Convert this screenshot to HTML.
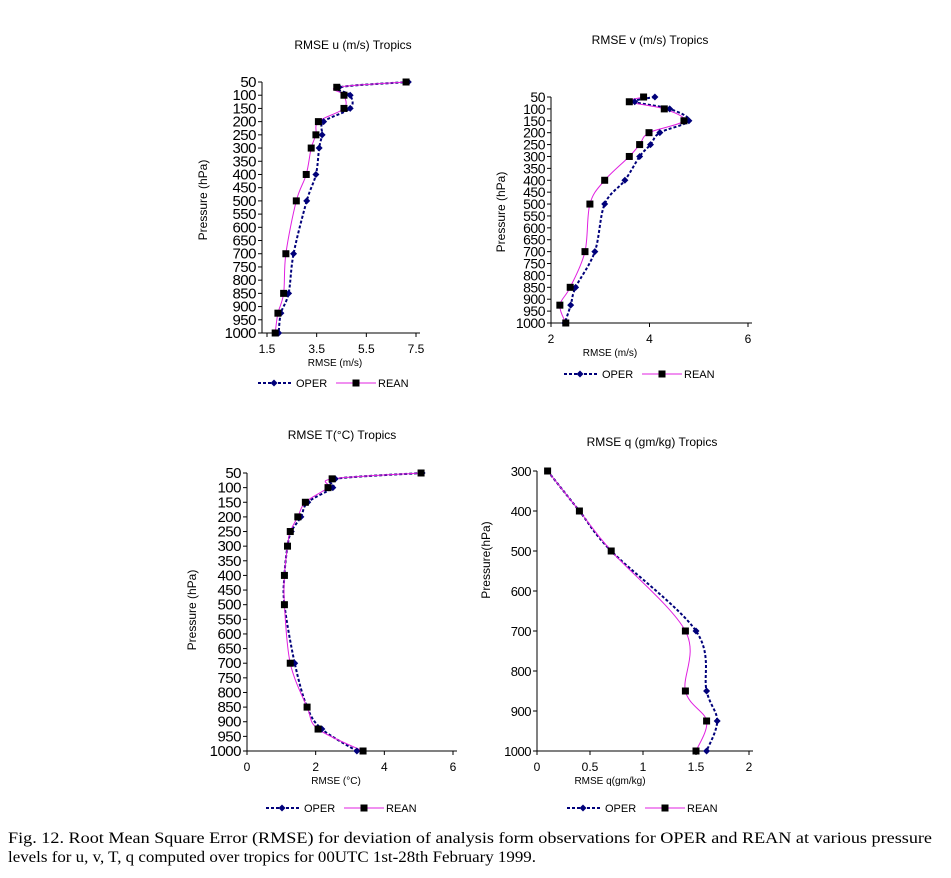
<!DOCTYPE html>
<html><head><meta charset="utf-8">
<style>
html,body{margin:0;padding:0;background:#fff;}
svg{display:block;font-family:"Liberation Sans",sans-serif;}
</style></head>
<body>
<svg id="fig" width="951" height="878" viewBox="0 0 951 878" xmlns="http://www.w3.org/2000/svg">
<text x="8" y="843" font-family="Liberation Serif, serif" font-size="16" textLength="924" lengthAdjust="spacingAndGlyphs">Fig. 12. Root Mean Square Error (RMSE) for deviation of analysis form observations for OPER and REAN at various pressure</text>
<text x="8" y="862" font-family="Liberation Serif, serif" font-size="16" textLength="528" lengthAdjust="spacingAndGlyphs">levels for u, v, T, q computed over tropics for 00UTC 1st-28th February 1999.</text>
</svg>
<script>
// ---- data ----
const levels = [50,70,100,150,200,250,300,400,500,700,850,925,1000];
const uOper = [7.19,4.4,4.85,4.85,3.78,3.72,3.6,3.47,3.1,2.57,2.37,2.06,1.97];
const uRean = [7.1,4.31,4.6,4.6,3.57,3.47,3.28,3.08,2.68,2.26,2.17,1.94,1.83];
const vOper = [4.11,3.7,4.41,4.8,4.21,4.02,3.8,3.5,3.09,2.89,2.5,2.4,2.28];
const vRean = [3.88,3.59,4.3,4.7,3.99,3.8,3.59,3.09,2.79,2.69,2.39,2.18,2.3];
const tOper = [5.1,2.57,2.5,1.77,1.57,1.29,1.18,1.09,1.09,1.39,1.75,2.18,3.2];
const tRean = [5.07,2.48,2.36,1.7,1.48,1.26,1.18,1.09,1.09,1.26,1.75,2.07,3.38];
const qLevels = [300,400,500,700,850,925,1000];
const qOper = [0.1,0.4,0.7,1.5,1.6,1.7,1.6];
const qRean = [0.1,0.4,0.7,1.4,1.4,1.6,1.5];
const pTicks = [50,100,150,200,250,300,350,400,450,500,550,600,650,700,750,800,850,900,950,1000];
const qTicks = [300,400,500,600,700,800,900,1000];
const uXTicks = [1.5,3.5,5.5,7.5];
const vXTicks = [2,4,6];
const tXTicks = [0,2,4,6];
const qXTicks = [0,0.5,1,1.5,2];

const NS = "http://www.w3.org/2000/svg";
const svg = document.getElementById('fig');
function el(tag, attrs, parent){
  const e = document.createElementNS(NS, tag);
  for (const k in attrs) e.setAttribute(k, attrs[k]);
  (parent||svg).appendChild(e);
  return e;
}
function smooth(pts){
  let d = `M${pts[0][0]},${pts[0][1]}`;
  for (let i=0;i<pts.length-1;i++){
    const p0=pts[i-1]||pts[i], p1=pts[i], p2=pts[i+1], p3=pts[i+2]||p2;
    const c1=[p1[0]+(p2[0]-p0[0])/6, p1[1]+(p2[1]-p0[1])/6];
    const c2=[p2[0]-(p3[0]-p1[0])/6, p2[1]-(p3[1]-p1[1])/6];
    d += ` C${c1[0]},${c1[1]} ${c2[0]},${c2[1]} ${p2[0]},${p2[1]}`;
  }
  return d;
}
function chart(c){
  const g = el('g',{});
  
  
  const xs = v => c.x0 + (v-c.xmin)/(c.xmax-c.xmin)*(c.x1-c.x0);
  const ys = p => c.y0 + (p-c.pmin)/(c.pmax-c.pmin)*(c.y1-c.y0);
  // title
  const t = el('text',{x:c.tx,y:c.ty,'font-size':12,'text-anchor':'middle'},g);
  t.textContent = c.title;
  
  
  // axes
  const ya = el('line',{x1:c.ax,y1:c.y0,x2:c.ax,y2:c.y1,stroke:'#000','stroke-width':1},g);
  
  
  const xa = el('line',{x1:c.ax,y1:c.y1,x2:c.x1+4,y2:c.y1,stroke:'#000','stroke-width':1},g);
  
  
  c.yt.forEach(p=>{
    const y = ys(p);
    el('line',{x1:c.ax-4,y1:y,x2:c.ax,y2:y,stroke:'#000'},g);
    const l = el('text',{x:c.ax-6,y:y+5,'font-size':c.yfs,'text-anchor':'end','letter-spacing':'-0.5'},g);
    l.textContent = p;
    
    
  });
  c.xt.forEach(v=>{
    const x = xs(v);
    el('line',{x1:x,y1:c.y1,x2:x,y2:c.y1+4,stroke:'#000'},g);
    const l = el('text',{x:x,y:c.y1+20,'font-size':12,'text-anchor':'middle'},g);
    l.textContent = v;
    
    
  });
  const xl = el('text',{x:c.xlx,y:c.y1+33,'font-size':10,'text-anchor':'middle'},g);
  xl.textContent = c.xlabel;
  
  
  const yl = el('text',{x:0,y:0,'font-size':12,'text-anchor':'middle',transform:`translate(${c.ylx},${c.yly}) rotate(-90)`},g);
  yl.textContent = c.ylabel;
  
  
  // series
  const ptsO = c.lv.map((p,i)=>[xs(c.oper[i]), ys(p)]);
  const ptsR = c.lv.map((p,i)=>[xs(c.rean[i]), ys(p)]);
  const lo = el('path',{d:smooth(ptsO),fill:'none',stroke:'#00007a','stroke-width':2,'stroke-dasharray':'3,2'},g);
  
  
  const lr = el('path',{d:smooth(ptsR),fill:'none',stroke:'#e020e0','stroke-width':1},g);
  
  
  ptsO.forEach(p=>{
    const m = el('path',{d:`M${p[0]},${p[1]-3.5} L${p[0]+3.5},${p[1]} L${p[0]},${p[1]+3.5} L${p[0]-3.5},${p[1]} Z`,fill:'#00007a'},g);
    
    
  });
  ptsR.forEach(p=>{
    const m = el('rect',{x:p[0]-3.5,y:p[1]-3.5,width:7,height:7,fill:'#000'},g);
    
    
  });
  // legend
  const L = c.lx, LY = c.ly;
  el('line',{x1:L,y1:LY,x2:L+34,y2:LY,stroke:'#00007a','stroke-width':2,'stroke-dasharray':'3,2'},g);
  el('path',{d:`M${L+16},${LY-3.5} L${L+19.5},${LY} L${L+16},${LY+3.5} L${L+12.5},${LY} Z`,fill:'#00007a'},g);
  const lt1 = el('text',{x:L+38,y:LY+4,'font-size':11},g);
  lt1.textContent = 'OPER';
  
  
  el('line',{x1:L+78,y1:LY,x2:L+118,y2:LY,stroke:'#e020e0','stroke-width':1},g);
  el('rect',{x:L+94.5,y:LY-3.5,width:7,height:7,fill:'#000'},g);
  const lt2 = el('text',{x:L+120,y:LY+4,'font-size':11},g);
  lt2.textContent = 'REAN';
  
  
}
chart({name:'chart-u',title:'RMSE u (m/s) Tropics',tx:353,ty:49,ax:262,x0:267,x1:416,xmin:1.5,xmax:7.5,y0:82,y1:333,pmin:50,pmax:1000,
  yt:pTicks,xt:uXTicks,yfs:15,lv:levels,oper:uOper,rean:uRean,xlabel:'RMSE (m/s)',xlx:335,ylabel:'Pressure  (hPa)',ylx:207,yly:200,lx:258,ly:383});
chart({name:'chart-v',title:'RMSE v (m/s) Tropics',tx:650,ty:44,ax:551,x0:551,x1:748,xmin:2,xmax:6,y0:97,y1:323,pmin:50,pmax:1000,
  yt:pTicks,xt:vXTicks,yfs:14,lv:levels,oper:vOper,rean:vRean,xlabel:'RMSE (m/s)',xlx:610,ylabel:'Pressure (hPa)',ylx:505,yly:212,lx:564,ly:374});
chart({name:'chart-t',title:'RMSE   T(°C)  Tropics',tx:342,ty:439,ax:247,x0:247,x1:453,xmin:0,xmax:6,y0:473,y1:751,pmin:50,pmax:1000,
  yt:pTicks,xt:tXTicks,yfs:15,lv:levels,oper:tOper,rean:tRean,xlabel:'RMSE  (°C)',xlx:336,ylabel:'Pressure (hPa)',ylx:196,yly:610,lx:266,ly:808});
chart({name:'chart-q',title:'RMSE q (gm/kg)  Tropics',tx:652,ty:446,ax:537,x0:537,x1:749,xmin:0,xmax:2,y0:471,y1:751,pmin:300,pmax:1000,
  yt:qTicks,xt:qXTicks,yfs:13,lv:qLevels,oper:qOper,rean:qRean,xlabel:'RMSE  q(gm/kg)',xlx:610,ylabel:'Pressure(hPa)',ylx:490,yly:560,lx:567,ly:808});
</script>
</body></html>
